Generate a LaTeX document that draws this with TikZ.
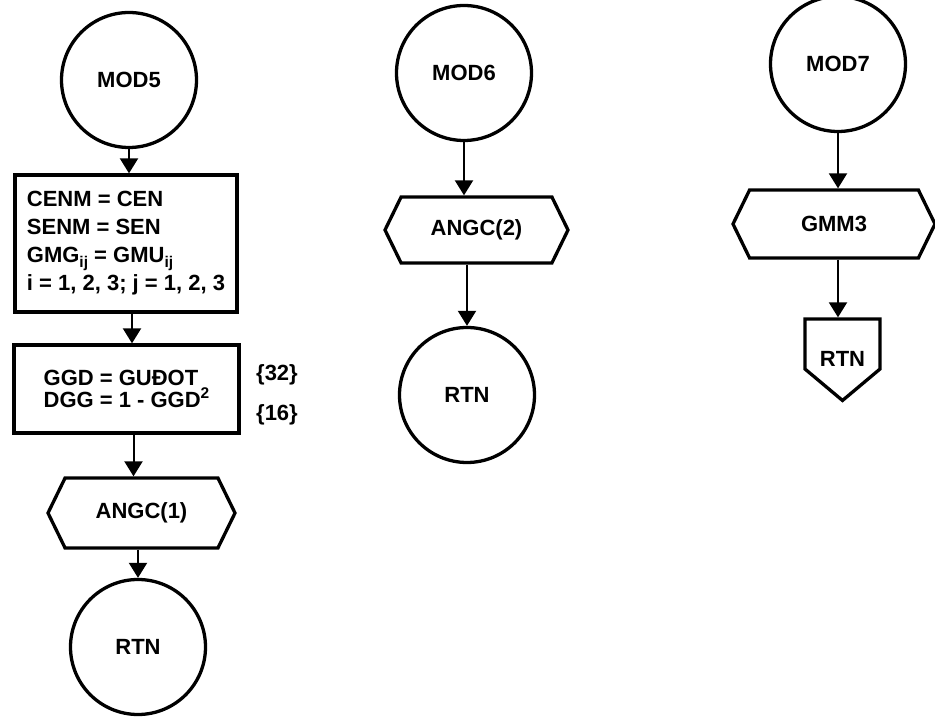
\documentclass[tikz,border=0pt]{standalone}
\usepackage{fontspec}
\setmainfont{Liberation Sans}
\usetikzlibrary{arrows.meta, shapes.symbols}
\newcommand{\SubIdx}[1]{\raisebox{-5pt}{\fontsize{15.5}{15.5}\selectfont #1}}
\newcommand{\SupIdx}[1]{\raisebox{9pt}{\fontsize{15.5}{15.5}\selectfont #1}}

\begin{document}
\begin{tikzpicture}[x=1pt, y=1pt,
  font=\fontsize{22}{28}\selectfont\bfseries,
  connector/.style={circle, draw, line width=3.3pt, minimum size=135pt, inner sep=0pt},
  procbox/.style={rectangle, draw, line width=3.3pt, align=left, inner xsep=4pt},
  callbox/.style={signal, signal to=east and west, signal pointer angle=128, draw, line width=3.3pt, inner sep=0pt},
  retbox/.style={signal, signal to=south, signal pointer angle=100, draw, line width=3.3pt, inner sep=0pt},
  flow/.style={-{Triangle[length=15pt, width=18pt]}, line width=2pt}]
\useasboundingbox (0,0) rectangle (935,717);

% Draw entry points
\node[connector] (mod5) at (129,637) {MOD5};
\node[connector] (mod6) at (464,644) {MOD6};
\node[connector] (mod7) at (838,653) {MOD7};

% MOD5 branch
\node[procbox, minimum width=222pt, minimum height=137pt] (setup) at (126,473.5)
  {CENM = CEN\\ SENM = SEN\\ GMG\SubIdx{ij} = GMU\SubIdx{ij}\\ i = 1, 2, 3; j = 1, 2, 3};
\node[procbox, minimum width=225pt, minimum height=88pt, font=\fontsize{22}{22}\selectfont\bfseries] (calc) at (126.5,328)
  {GGD = GUĐOT\\ DGG = 1 - GGD\SupIdx{2}};
\node (refA) at (277,342) {\{32\}};
\node (refB) at (277,302) {\{16\}};
\node[callbox, minimum width=187pt, minimum height=70pt] (angcA) at (141.5,204) {ANGC(1)};
\node[connector] (rtnA) at (138,70) {RTN};

% MOD6 branch
\node[callbox, minimum width=183pt, minimum height=66pt] (angcB) at (476.5,487) {ANGC(2)};
\node[connector] (rtnB) at (467,322) {RTN};

% MOD7 branch
\node[callbox, minimum width=202pt, minimum height=68pt] (gmm) at (834,493) {GMM3};
\node[retbox, minimum width=75pt, minimum height=69pt] (rtnC) at (842.5,373) {\raisebox{-23pt}[0pt][0pt]{RTN}};

% Draw flow lines
\draw[flow] (mod5) -- (mod5 |- setup.north);
\draw[flow] ([xshift=6pt]setup.south) -- ([xshift=6pt]setup.south |- calc.north);
\draw[flow] ([xshift=7pt]calc.south) -- ([xshift=7pt]calc.south |- angcA.north);
\draw[flow] (rtnA |- angcA.south) -- (rtnA);

\draw[flow] (mod6) -- (mod6 |- angcB.north);
\draw[flow] (rtnB |- angcB.south) -- (rtnB);

\draw[flow] (mod7) -- (mod7 |- gmm.north);
\draw[flow] (mod7 |- gmm.south) -- (mod7 |- rtnC.north);
\end{tikzpicture}
\end{document}
